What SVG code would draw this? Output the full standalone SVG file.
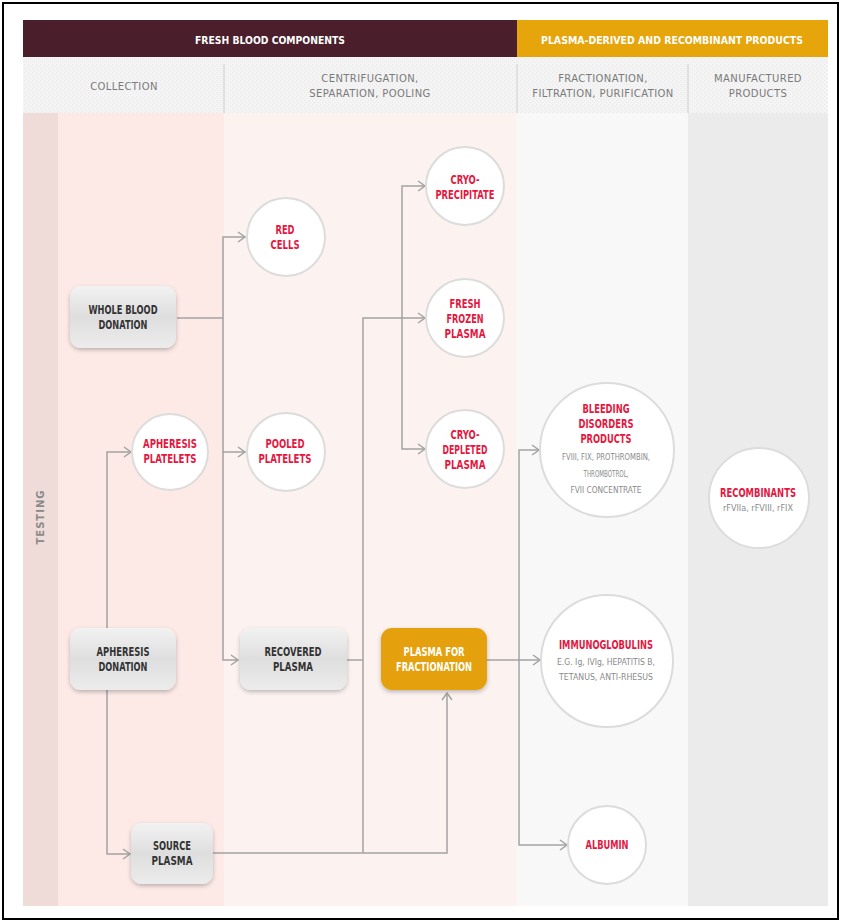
<svg xmlns="http://www.w3.org/2000/svg" width="842" height="923" viewBox="0 0 842 923">
<defs>
<style>
.t{font-family:"DejaVu Sans","Liberation Sans",sans-serif;text-anchor:middle}
.hd{font-size:10px;font-weight:bold;fill:#fff}
.sh{font-size:10px;fill:#7a7a7a;letter-spacing:0.4px}
.nl{font-size:11.5px;font-weight:bold;fill:#333}
.wl{font-size:11.5px;font-weight:bold;fill:#fff}
.cl{font-size:11.5px;font-weight:bold;fill:#e5173f}
.dl{font-size:9.5px;fill:#8a8a8a}
.box{fill:url(#metal);filter:url(#sh)}
.gold{fill:#e4a10d;filter:url(#sh)}
.circ{fill:#fff;stroke:#dcdcdc;stroke-width:2}
.ln{fill:none;stroke:#a3a3a3;stroke-width:1.5}
.ar{marker-end:url(#arr)}
.div{stroke:#cfcfcf;stroke-width:1}
</style>
<linearGradient id="metal" x1="0" y1="0" x2="0" y2="1">
<stop offset="0" stop-color="#f2f2f2"/>
<stop offset="0.5" stop-color="#dedede"/>
<stop offset="1" stop-color="#ececec"/>
</linearGradient>
<filter id="sh" x="-20%" y="-20%" width="140%" height="150%">
<feDropShadow dx="0" dy="2" stdDeviation="2" flood-color="#000" flood-opacity="0.25"/>
</filter>
<pattern id="dots" width="4" height="4" patternUnits="userSpaceOnUse">
<rect width="4" height="4" fill="#f4f4f4"/>
<rect width="1" height="1" fill="#e6e6e6"/>
<rect x="2" y="2" width="1" height="1" fill="#e6e6e6"/>
</pattern>
<marker id="arr" markerWidth="10" markerHeight="12" refX="8" refY="6" orient="auto" markerUnits="userSpaceOnUse">
<path d="M1,1 L8,6 L1,11" fill="none" stroke="#a3a3a3" stroke-width="1.5"/>
</marker>
</defs>
<rect x="0" y="0" width="842" height="923" fill="#fff"/>
<g id="background">
<rect x="23" y="20" width="494" height="37" fill="#4a1e2a"/>
<rect x="517" y="20" width="311" height="37" fill="#e5a50b"/>
<rect x="23" y="57" width="805" height="56" fill="url(#dots)"/>
<line class="div" x1="224" y1="64" x2="224" y2="113"/>
<line class="div" x1="517" y1="64" x2="517" y2="113"/>
<line class="div" x1="688" y1="64" x2="688" y2="113"/>
<rect x="23" y="113" width="35" height="793" fill="#efdcd8"/>
<rect x="58" y="113" width="166" height="793" fill="#fdeae7"/>
<rect x="224" y="113" width="293" height="793" fill="#fcf3f1"/>
<rect x="517" y="113" width="171" height="793" fill="#f8f8f8"/>
<rect x="688" y="113" width="140" height="793" fill="#ebebeb"/>
<rect x="3" y="3" width="835" height="916" fill="none" stroke="#000" stroke-width="2"/>
</g>
<g id="headers">
<text class="t hd" x="270" y="43.5" textLength="150" lengthAdjust="spacingAndGlyphs">FRESH BLOOD COMPONENTS</text>
<text class="t hd" x="672" y="43.5" textLength="262" lengthAdjust="spacingAndGlyphs">PLASMA-DERIVED AND RECOMBINANT PRODUCTS</text>
<text class="t sh" x="124" y="90">COLLECTION</text>
<text class="t sh" x="370" y="82">CENTRIFUGATION,</text>
<text class="t sh" x="370" y="97">SEPARATION, POOLING</text>
<text class="t sh" x="603" y="82">FRACTIONATION,</text>
<text class="t sh" x="603" y="97">FILTRATION, PURIFICATION</text>
<text class="t sh" x="758" y="82">MANUFACTURED</text>
<text class="t sh" x="758" y="97">PRODUCTS</text>
<g transform="translate(44,517) rotate(-90)">
<text class="t sh" x="0" y="0" style="font-weight:bold;fill:#8a8a8a;letter-spacing:1px">TESTING</text>
</g>
</g>
<g id="connectors">
<path class="ln" d="M177,318 H223"/>
<path class="ln ar" d="M223,318 V237 H245"/>
<path class="ln ar" d="M223,318 V452 H245"/>
<path class="ln ar" d="M223,452 V660 H238"/>
<path class="ln ar" d="M107,628 V452 H131"/>
<path class="ln ar" d="M107,690 V854 H130"/>
<path class="ln ar" d="M213,853 H447 V693"/>
<path class="ln ar" d="M363,853 V318 H425"/>
<path class="ln" d="M347,660 H363"/>
<path class="ln ar" d="M402,318 V186 H425"/>
<path class="ln ar" d="M402,318 V449 H425"/>
<path class="ln" d="M487,660 H519"/>
<path class="ln ar" d="M519,660 V450 H539"/>
<path class="ln ar" d="M519,660 H540"/>
<path class="ln ar" d="M519,660 V845 H567"/>
</g>
<g id="whole-blood-donation">
<rect class="box" x="70" y="286" width="106" height="62" rx="11"/>
<text class="t nl" x="123" y="314" textLength="69" lengthAdjust="spacingAndGlyphs">WHOLE BLOOD</text>
<text class="t nl" x="123" y="329" textLength="49" lengthAdjust="spacingAndGlyphs">DONATION</text>
</g>
<g id="apheresis-donation">
<rect class="box" x="70" y="628" width="106" height="62" rx="11"/>
<text class="t nl" x="123" y="656" textLength="53" lengthAdjust="spacingAndGlyphs">APHERESIS</text>
<text class="t nl" x="123" y="671" textLength="49" lengthAdjust="spacingAndGlyphs">DONATION</text>
</g>
<g id="source-plasma">
<rect class="box" x="131" y="823" width="82" height="61" rx="11"/>
<text class="t nl" x="172" y="850" textLength="38" lengthAdjust="spacingAndGlyphs">SOURCE</text>
<text class="t nl" x="172" y="865" textLength="41" lengthAdjust="spacingAndGlyphs">PLASMA</text>
</g>
<g id="recovered-plasma">
<rect class="box" x="240" y="628" width="107" height="62" rx="11"/>
<text class="t nl" x="293" y="656" textLength="57" lengthAdjust="spacingAndGlyphs">RECOVERED</text>
<text class="t nl" x="293" y="671" textLength="40" lengthAdjust="spacingAndGlyphs">PLASMA</text>
</g>
<g id="plasma-for-fractionation">
<rect class="gold" x="381" y="628" width="106" height="62" rx="11"/>
<text class="t wl" x="434" y="656" textLength="61" lengthAdjust="spacingAndGlyphs">PLASMA FOR</text>
<text class="t wl" x="434" y="671" textLength="76" lengthAdjust="spacingAndGlyphs">FRACTIONATION</text>
</g>
<g id="apheresis-platelets">
<circle class="circ" cx="170" cy="452" r="38"/>
<text class="t cl" x="170" y="448" textLength="54" lengthAdjust="spacingAndGlyphs">APHERESIS</text>
<text class="t cl" x="170" y="463" textLength="53" lengthAdjust="spacingAndGlyphs">PLATELETS</text>
</g>
<g id="red-cells">
<circle class="circ" cx="286" cy="237" r="39"/>
<text class="t cl" x="285" y="234" textLength="19" lengthAdjust="spacingAndGlyphs">RED</text>
<text class="t cl" x="285" y="249" textLength="29" lengthAdjust="spacingAndGlyphs">CELLS</text>
</g>
<g id="pooled-platelets">
<circle class="circ" cx="286" cy="452" r="39"/>
<text class="t cl" x="285" y="448" textLength="39" lengthAdjust="spacingAndGlyphs">POOLED</text>
<text class="t cl" x="285" y="463" textLength="53" lengthAdjust="spacingAndGlyphs">PLATELETS</text>
</g>
<g id="cryoprecipitate">
<circle class="circ" cx="465" cy="186" r="39"/>
<text class="t cl" x="465" y="184" textLength="29" lengthAdjust="spacingAndGlyphs">CRYO-</text>
<text class="t cl" x="465" y="199" textLength="59" lengthAdjust="spacingAndGlyphs">PRECIPITATE</text>
</g>
<g id="fresh-frozen-plasma">
<circle class="circ" cx="465" cy="318" r="39"/>
<text class="t cl" x="465" y="308" textLength="31" lengthAdjust="spacingAndGlyphs">FRESH</text>
<text class="t cl" x="465" y="323" textLength="37" lengthAdjust="spacingAndGlyphs">FROZEN</text>
<text class="t cl" x="465" y="338" textLength="41" lengthAdjust="spacingAndGlyphs">PLASMA</text>
</g>
<g id="cryo-depleted-plasma">
<circle class="circ" cx="465" cy="449" r="39"/>
<text class="t cl" x="465" y="439" textLength="29" lengthAdjust="spacingAndGlyphs">CRYO-</text>
<text class="t cl" x="465" y="454" textLength="45" lengthAdjust="spacingAndGlyphs">DEPLETED</text>
<text class="t cl" x="465" y="469" textLength="41" lengthAdjust="spacingAndGlyphs">PLASMA</text>
</g>
<g id="bleeding-disorders-products">
<circle class="circ" cx="607" cy="450" r="67"/>
<text class="t cl" x="606" y="413" textLength="47" lengthAdjust="spacingAndGlyphs">BLEEDING</text>
<text class="t cl" x="606" y="428" textLength="55" lengthAdjust="spacingAndGlyphs">DISORDERS</text>
<text class="t cl" x="606" y="443" textLength="51" lengthAdjust="spacingAndGlyphs">PRODUCTS</text>
<text class="t dl" x="606" y="460" textLength="88" lengthAdjust="spacingAndGlyphs">FVIII, FIX, PROTHROMBIN,</text>
<text class="t dl" x="606" y="477" textLength="45" lengthAdjust="spacingAndGlyphs">THROMBOTROL,</text>
<text class="t dl" x="606" y="493" textLength="71" lengthAdjust="spacingAndGlyphs">FVII CONCENTRATE</text>
</g>
<g id="immunoglobulins">
<circle class="circ" cx="607" cy="661" r="66"/>
<text class="t cl" x="606" y="649" textLength="94" lengthAdjust="spacingAndGlyphs">IMMUNOGLOBULINS</text>
<text class="t dl" x="606" y="665" textLength="98" lengthAdjust="spacingAndGlyphs">E.G. Ig, IVIg, HEPATITIS B,</text>
<text class="t dl" x="606" y="680" textLength="94" lengthAdjust="spacingAndGlyphs">TETANUS, ANTI-RHESUS</text>
</g>
<g id="albumin">
<circle class="circ" cx="607" cy="845" r="39"/>
<text class="t cl" x="607" y="849" textLength="43" lengthAdjust="spacingAndGlyphs">ALBUMIN</text>
</g>
<g id="recombinants">
<circle class="circ" cx="759" cy="498" r="50"/>
<text class="t cl" x="758" y="497" textLength="76" lengthAdjust="spacingAndGlyphs">RECOMBINANTS</text>
<text class="t dl" x="758" y="511" textLength="70" lengthAdjust="spacingAndGlyphs">rFVIIa, rFVIII, rFIX</text>
</g>
</svg>
